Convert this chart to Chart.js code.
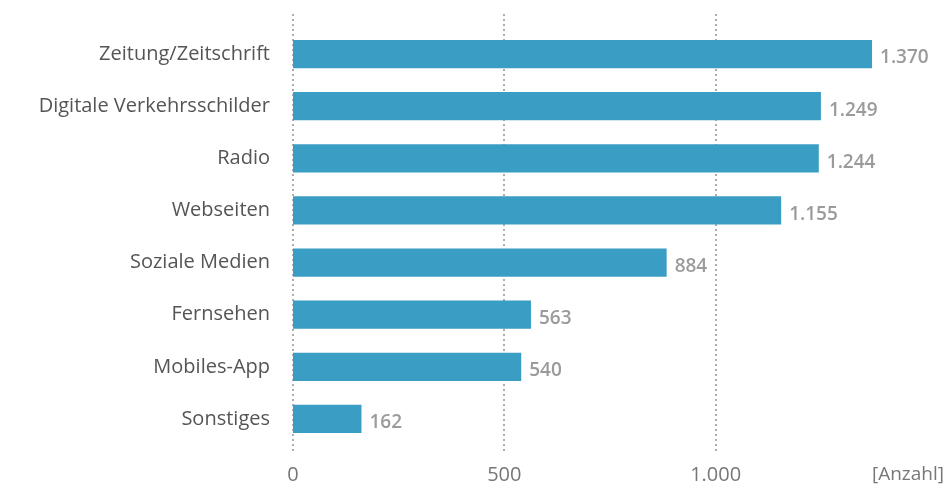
<!DOCTYPE html>
<html>
<head>
<meta charset="utf-8">
<script src="https://cdn.jsdelivr.net/npm/chart.js@4/dist/chart.umd.min.js"></script>
<style>
  html, body { margin: 0; padding: 0; background: #fff; }
</style>
</head>
<body>
<canvas id="chart" width="945" height="484"></canvas>
<script>
// Daten
const kategorien = ['Zeitung/Zeitschrift', 'Digitale Verkehrsschilder', 'Radio', 'Webseiten',
    'Soziale Medien', 'Fernsehen', 'Mobiles-App', 'Sonstiges'];
const anzahl = [1370, 1249, 1244, 1155, 884, 563, 540, 162];
const xTicks = [0, 500, 1000];
const einheit = '[Anzahl]';

const fmt = v => v.toLocaleString('de-DE');
const schrift = "'Open Sans'";

// gepunktete Gitterlinien, etwas ueber den Plotbereich hinaus
const gitterPlugin = {
    id: 'gitter',
    beforeDatasetsDraw(chart) {
        const ctx = chart.ctx, x = chart.scales.x, a = chart.chartArea;
        ctx.save();
        ctx.fillStyle = '#9a9a9a';
        xTicks.forEach(t => {
            const px = Math.round(x.getPixelForValue(t));
            for (let y = a.top - 13; y <= a.bottom + 7; y += 5) {
                ctx.beginPath();
                ctx.arc(px, y, 1.1, 0, Math.PI * 2);
                ctx.fill();
            }
        });
        ctx.restore();
    }
};

// Werte neben den Balken und Einheit unten rechts
const labelPlugin = {
    id: 'werte',
    afterDatasetsDraw(chart) {
        const ctx = chart.ctx;
        const meta = chart.getDatasetMeta(0);
        ctx.save();
        ctx.font = '600 19px ' + schrift;
        ctx.fillStyle = '#9b9b9b';
        ctx.textBaseline = 'middle';
        meta.data.forEach((bar, i) => {
            ctx.fillText(fmt(anzahl[i]), bar.x + 8, bar.y + 4);
        });
        ctx.font = '19px ' + schrift;
        ctx.fillStyle = '#777';
        ctx.textAlign = 'right';
        ctx.fillText(einheit, chart.width - 1, 475);
        ctx.restore();
    }
};

new Chart(document.getElementById('chart'), {
    type: 'bar',
    data: {
        labels: kategorien,
        datasets: [{
            data: anzahl,
            backgroundColor: '#3a9dc3',
            categoryPercentage: 1,
            barPercentage: 0.54
        }]
    },
    options: {
        indexAxis: 'y',
        responsive: false,
        animation: false,
        layout: { padding: { top: 28, right: 18, bottom: 0, left: 0 } },
        plugins: { legend: { display: false }, tooltip: { enabled: false } },
        scales: {
            x: {
                min: 0,
                max: 1500,
                afterBuildTicks: s => { s.ticks = xTicks.map(v => ({ value: v })); },
                afterFit: s => { s.height = 39; s.paddingLeft = 0; s.paddingRight = 0; },
                grid: { display: false },
                border: { display: false },
                ticks: {
                    callback: v => fmt(v),
                    color: '#777',
                    font: { family: schrift, size: 20 },
                    padding: 10
                }
            },
            y: {
                afterFit: s => { s.width = 293; s.paddingTop = 0; s.paddingBottom = 0; },
                grid: { display: false },
                border: { display: false },
                ticks: {
                    color: '#555',
                    font: { family: schrift, size: 20 },
                    padding: 15
                }
            }
        }
    },
    plugins: [gitterPlugin, labelPlugin]
});
</script>
</body>
</html>
